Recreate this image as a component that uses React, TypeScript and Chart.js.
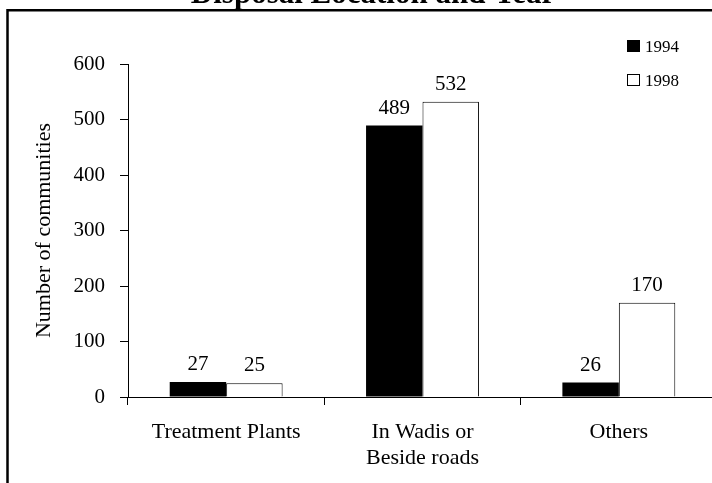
import { useEffect, useRef } from "react";
import { Chart, registerables } from "chart.js";

Chart.register(...registerables);

// ---- data ----
const categories: (string | string[])[] = ["Treatment Plants", ["In Wadis or", "Beside roads"], "Others"];
const seriesNames = ["1994", "1998"];
const values1994 = [27, 489, 26];
const values1998 = [25, 532, 170];
const yMin = 0;
const yMax = 600;
const yStep = 100;
const titleText = "Disposal Location and Year";
const yTitleText = "Number of communities";

// ---- layout constants ----
const SERIF = "'Liberation Serif', 'Times New Roman', Times, serif";
const W = 760;
const H = 540;
const SHIFT = 40; // canvas is moved up by this many px so the title is clipped

const framePlugin = {
  id: "frame",
  beforeDraw(chart: any) {
    const ctx = chart.ctx;
    ctx.save();
    ctx.strokeStyle = "#000";
    ctx.lineWidth = 2.5;
    ctx.beginPath();
    ctx.moveTo(7.5, H + 10);
    ctx.lineTo(7.5, 10.3 + SHIFT);
    ctx.lineTo(W + 10, 10.3 + SHIFT);
    ctx.stroke();
    ctx.restore();
  },
};

const valueLabelPlugin = {
  id: "valueLabels",
  afterDatasetsDraw(chart: any) {
    const ctx = chart.ctx;
    ctx.save();
    ctx.font = `21px ${SERIF}`;
    ctx.fillStyle = "#000";
    ctx.textAlign = "center";
    ctx.textBaseline = "alphabetic";
    chart.data.datasets.forEach((ds: any, i: number) => {
      const meta = chart.getDatasetMeta(i);
      meta.data.forEach((el: any, j: number) => {
        ctx.fillText(String(ds.data[j]), el.x, el.y - 12);
      });
    });
    ctx.restore();
  },
};

const legendPlugin = {
  id: "boxLegend",
  afterDraw(chart: any) {
    const ctx = chart.ctx;
    ctx.save();
    ctx.font = `17px ${SERIF}`;
    ctx.textBaseline = "alphabetic";
    ctx.textAlign = "left";
    const rowTops = [40, 74];
    chart.data.datasets.forEach((ds: any, i: number) => {
      const top = rowTops[i] + SHIFT;
      ctx.fillStyle = ds.backgroundColor;
      ctx.fillRect(627, top, 13, 12);
      ctx.strokeStyle = ds.borderColor;
      ctx.lineWidth = 1;
      ctx.strokeRect(627.5, top + 0.5, 12, 11);
      ctx.fillStyle = "#000";
      ctx.fillText(ds.label, 645, top + 12);
    });
    ctx.restore();
  },
};

export default function App() {
  const canvasRef = useRef<HTMLCanvasElement | null>(null);

  useEffect(() => {
    const canvas = canvasRef.current;
    if (!canvas) return;
    const chart = new Chart(canvas, {
      type: "bar",
      data: {
        labels: categories as any,
        datasets: [
          {
            label: seriesNames[0],
            data: values1994,
            backgroundColor: "#000",
            borderColor: "#000",
            borderWidth: 0,
            barPercentage: 1,
            categoryPercentage: 0.575,
          },
          {
            label: seriesNames[1],
            data: values1998,
            backgroundColor: "#fff",
            borderColor: "#000",
            borderWidth: 1,
            barPercentage: 1,
            categoryPercentage: 0.575,
          },
        ],
      },
      options: {
        responsive: false,
        animation: false,
        devicePixelRatio: 1,
        layout: { padding: { left: 29, right: 43, top: 0, bottom: 23 } },
        plugins: {
          legend: { display: false },
          tooltip: { enabled: false },
          title: {
            display: true,
            text: titleText,
            color: "#000",
            font: { family: SERIF, size: 31, weight: "bold", lineHeight: 1.2 },
            padding: { top: 16, bottom: 50.8 },
          },
        },
        scales: {
          x: {
            offset: true,
            grid: {
              offset: true,
              drawOnChartArea: false,
              drawTicks: true,
              tickLength: 8,
              color: "#000",
              lineWidth: 1,
            },
            border: { display: true, color: "#000", width: 1 },
            ticks: {
              color: "#000",
              font: { family: SERIF, size: 22, lineHeight: 1.15 },
              padding: 15,
              maxRotation: 0,
              minRotation: 0,
              autoSkip: false,
            },
            afterFit(scale: any) {
              scale.height = 80;
            },
          },
          y: {
            min: yMin,
            max: yMax,
            ticks: {
              stepSize: yStep,
              color: "#000",
              font: { family: SERIF, size: 21 },
              padding: 15,
            },
            grid: { drawOnChartArea: false, tickLength: 8, color: "#000", lineWidth: 1 },
            border: { display: true, color: "#000", width: 1 },
            title: {
              display: true,
              text: yTitleText,
              color: "#000",
              font: { family: SERIF, size: 22, lineHeight: 1.2 },
              padding: { top: 2, bottom: 0 },
            },
            afterFit(scale: any) {
              scale.width = 99;
            },
          },
        },
      } as any,
      plugins: [framePlugin, valueLabelPlugin, legendPlugin],
    });
    return () => chart.destroy();
  }, []);

  return (
    <div
      style={{
        position: "fixed",
        left: 0,
        top: 0,
        width: 712,
        height: 483,
        overflow: "hidden",
        background: "#fff",
      }}
    >
      <canvas
        ref={canvasRef}
        width={W}
        height={H}
        style={{ position: "absolute", left: 0, top: -SHIFT, width: W, height: H }}
      />
    </div>
  );
}
